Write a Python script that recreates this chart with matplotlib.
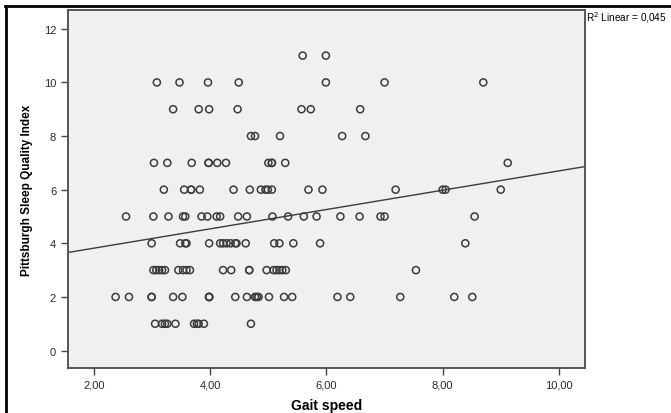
import matplotlib.pyplot as plt
from matplotlib.lines import Line2D
from matplotlib.ticker import FuncFormatter
import numpy as np

plt.rcParams['font.family'] = ['Liberation Sans', 'DejaVu Sans']

# gait speed values per sleep-quality score
psqi_11 = [5.59, 5.99]
psqi_10 = [3.08, 3.47, 3.96, 4.49, 5.99, 7.0, 8.70]
psqi_9 = [3.36, 3.80, 3.98, 4.47, 5.57, 5.73, 6.58]
psqi_8 = [4.70, 4.77, 5.20, 6.27, 6.67]
psqi_7 = [3.03, 3.26, 3.68, 3.97, 3.97, 4.12, 4.27, 5.0, 5.06, 5.06, 5.29, 9.12]
psqi_6 = [3.20, 3.55, 3.67, 3.67, 3.82, 4.40, 4.68, 4.87, 4.95, 4.99, 5.06,
          5.69, 5.93, 7.19, 8.0, 8.05, 9.0]
psqi_5 = [2.55, 3.02, 3.28, 3.53, 3.57, 3.85, 3.95, 4.11, 4.17, 4.48, 4.63,
          5.07, 5.34, 5.61, 5.83, 6.24, 6.57, 6.93, 7.0, 8.55]
psqi_4 = [2.99, 3.48, 3.57, 3.59, 3.98, 4.17, 4.22, 4.28, 4.35, 4.43, 4.45,
          4.61, 5.10, 5.19, 5.43, 5.89, 8.39]
psqi_3 = [3.02, 3.07, 3.12, 3.17, 3.22, 3.45, 3.53, 3.59, 3.65, 4.22, 4.36,
          4.67, 4.67, 4.97, 5.09, 5.14, 5.19, 5.24, 5.30, 7.54]
psqi_2 = [2.37, 2.60, 2.99, 2.99, 3.36, 3.52, 3.98, 3.98, 3.98, 4.43, 4.63,
          4.77, 4.80, 4.83, 5.01, 5.27, 5.41, 6.19, 6.41, 7.27, 8.20, 8.51]
psqi_1 = [3.05, 3.17, 3.22, 3.26, 3.40, 3.72, 3.77, 3.80, 3.89, 4.70]

rows = {11: psqi_11, 10: psqi_10, 9: psqi_9, 8: psqi_8, 7: psqi_7, 6: psqi_6,
        5: psqi_5, 4: psqi_4, 3: psqi_3, 2: psqi_2, 1: psqi_1}

# fit line as shown
fit_intercept = 3.10
fit_slope = 0.36
r2_text = "R$^2$ Linear = 0,045"

x_ticks = [2, 4, 6, 8, 10]
y_ticks = [0, 2, 4, 6, 8, 10, 12]

fig = plt.figure(figsize=(6.71, 4.14), dpi=100)
ax = fig.add_axes([0.1013, 0.1087, 0.7705, 0.8647])
ax.set_facecolor('#f0f0f0')

gx, gy = [], []
for score, speeds in rows.items():
    gx += speeds
    gy += [score] * len(speeds)
ax.scatter(gx, gy, s=26, facecolors='none', edgecolors='#3c3c3c', linewidths=1.1, zorder=3)

xlim = (1.55, 10.45)
xs = np.array(xlim)
ax.plot(xs, fit_intercept + fit_slope * xs, color='#3a3a3a', lw=1.0, zorder=2)

ax.set_xlim(xlim)
ax.set_ylim(-0.65, 12.7)
ax.set_xticks(x_ticks)
ax.set_yticks(y_ticks)
ax.xaxis.set_major_formatter(FuncFormatter(lambda v, p: f"{v:.2f}".replace('.', ',')))
ax.tick_params(direction='out', length=5, width=1, color='#444444', labelsize=8, labelcolor='#2a2a2a')

for s in ax.spines.values():
    s.set_color('#555555')
    s.set_linewidth(1.4)

ax.set_xlabel("Gait speed", fontsize=10, fontweight='bold', labelpad=6)
ax.set_ylabel("Pittsburgh Sleep Quality Index", fontsize=8.5, fontweight='bold', labelpad=8)

# legend text sits right of the plot, shrunk a little to stay inside the canvas
fig.text(586 / 671, 1 - 18 / 414, r2_text, fontsize=7.2, va='center', ha='left')

# outer frame (top and left only)
fig.add_artist(Line2D([5 / 671, 1], [1 - 7 / 414] * 2, color='black', lw=2, transform=fig.transFigure))
fig.add_artist(Line2D([6 / 671] * 2, [0, 1 - 7 / 414], color='black', lw=2, transform=fig.transFigure))

fig.savefig("out.png", dpi=100)
